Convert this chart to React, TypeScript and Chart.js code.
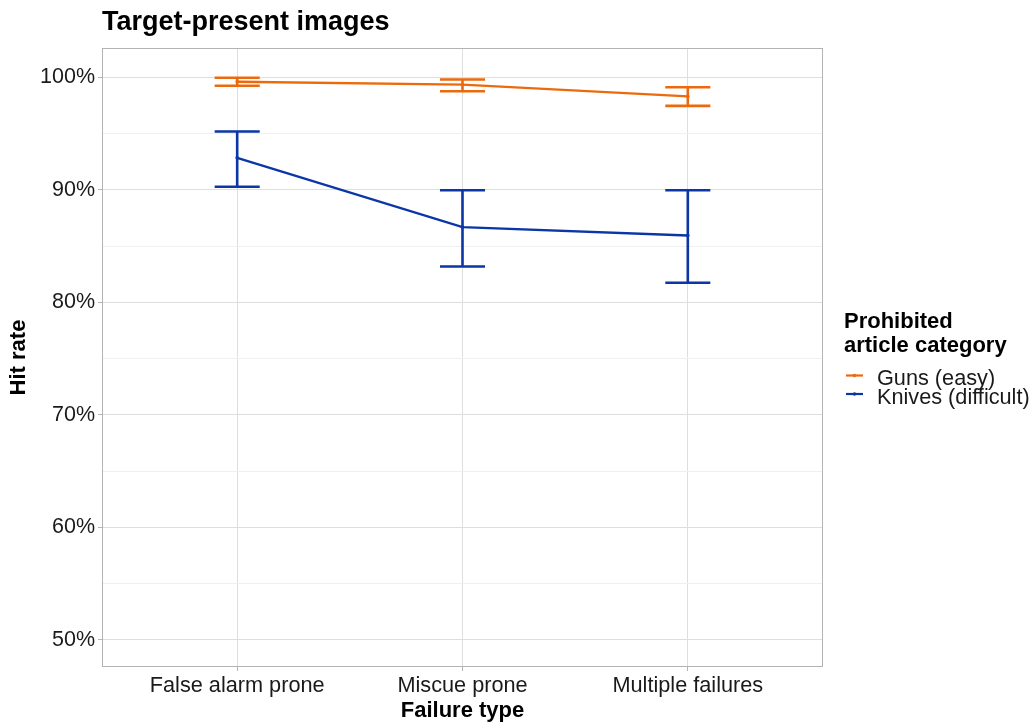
import React, { useEffect, useRef } from "react";
import { Chart, registerables } from "chart.js";

Chart.register(...registerables);

const categories = ["False alarm prone", "Miscue prone", "Multiple failures"];
const seriesNames = ["Guns (easy)", "Knives (difficult)"];
const seriesColors = ["#EC6A0C", "#0B36A6"];
const gunsMean = [99.6, 99.35, 98.3];
const gunsLow = [99.24, 98.76, 97.46];
const gunsHigh = [99.95, 99.8, 99.11];
const knivesMean = [92.84, 86.68, 85.94];
const knivesLow = [90.27, 83.19, 81.74];
const knivesHigh = [95.18, 89.96, 89.96];
const yTicks = [50, 55, 60, 65, 70, 75, 80, 85, 90, 95, 100];
const yMajor = [50, 60, 70, 80, 90, 100];

const FONT = "'Liberation Sans', Arial, Helvetica, sans-serif";

const errorBarPlugin = {
  id: "errorBars",
  afterDatasetsDraw(chart: any) {
    const ctx = chart.ctx;
    const xs = chart.scales.x;
    const ys = chart.scales.y;
    chart.data.datasets.forEach((ds: any) => {
      const lows: number[] = ds.errLow;
      const highs: number[] = ds.errHigh;
      ctx.save();
      ctx.strokeStyle = ds.borderColor;
      ctx.lineWidth = 2.6;
      ctx.lineCap = "butt";
      for (let i = 0; i < lows.length; i++) {
        const x = xs.getPixelForValue(i);
        const xl = xs.getPixelForValue(i - 0.1);
        const xr = xs.getPixelForValue(i + 0.1);
        const yl = ys.getPixelForValue(lows[i]);
        const yh = ys.getPixelForValue(highs[i]);
        ctx.beginPath();
        ctx.moveTo(x, yl);
        ctx.lineTo(x, yh);
        ctx.moveTo(xl, yl);
        ctx.lineTo(xr, yl);
        ctx.moveTo(xl, yh);
        ctx.lineTo(xr, yh);
        ctx.stroke();
      }
      ctx.restore();
    });
  },
};

const decorPlugin = {
  id: "decor",
  afterDraw(chart: any) {
    const ctx = chart.ctx;
    const a = chart.chartArea;
    ctx.save();
    // panel border
    ctx.strokeStyle = "#b3b3b3";
    ctx.lineWidth = 1;
    ctx.strokeRect(Math.round(a.left) + 0.5, Math.round(a.top) + 0.5, Math.round(a.right - a.left) - 1, Math.round(a.bottom - a.top) - 1);
    // plot title
    ctx.fillStyle = "#000";
    ctx.textAlign = "left";
    ctx.textBaseline = "alphabetic";
    ctx.font = `bold 27px ${FONT}`;
    ctx.fillText("Target-present images", a.left, 30);
    // legend
    const lx = a.right + 21;
    ctx.font = `bold 22px ${FONT}`;
    ctx.fillText("Prohibited", lx, 328);
    ctx.fillText("article category", lx, 352);
    ctx.font = `21.7px ${FONT}`;
    const rows = [385, 403.5];
    chart.data.datasets.forEach((ds: any, i: number) => {
      const by = rows[i];
      const ky = by - 9.5;
      ctx.strokeStyle = ds.borderColor;
      ctx.lineWidth = 2.2;
      ctx.beginPath();
      ctx.moveTo(lx + 2, ky);
      ctx.lineTo(lx + 19, ky);
      ctx.stroke();
      ctx.fillStyle = ds.borderColor;
      ctx.beginPath();
      ctx.arc(lx + 10.5, ky, 1.8, 0, Math.PI * 2);
      ctx.fill();
      ctx.fillStyle = "#1a1a1a";
      ctx.fillText(ds.label, lx + 33, by);
    });
    ctx.restore();
  },
};

export default function App() {
  const ref = useRef<HTMLCanvasElement | null>(null);
  useEffect(() => {
    if (!ref.current) return;
    const mk = (name: string, color: string, mean: number[], lo: number[], hi: number[]) => ({
      label: name,
      data: mean.map((v, i) => ({ x: i, y: v })),
      borderColor: color,
      backgroundColor: color,
      borderWidth: 2.3,
      pointRadius: 1.8,
      pointBorderWidth: 0,
      pointBackgroundColor: color,
      tension: 0,
      errLow: lo,
      errHigh: hi,
    });
    const chart = new Chart(ref.current, {
      type: "line",
      data: {
        datasets: [
          mk(seriesNames[0], seriesColors[0], gunsMean, gunsLow, gunsHigh),
          mk(seriesNames[1], seriesColors[1], knivesMean, knivesLow, knivesHigh),
        ] as any,
      },
      options: {
        responsive: false,
        animation: false,
        layout: { padding: { top: 48, right: 212, bottom: 0, left: 0 } },
        plugins: {
          legend: { display: false },
          title: { display: false },
          tooltip: { enabled: false },
        },
        scales: {
          x: {
            type: "linear",
            min: -0.6,
            max: 2.6,
            afterBuildTicks: (s: any) => {
              s.ticks = categories.map((_, i) => ({ value: i }));
            },
            afterFit: (s: any) => {
              s.height = 56;
            },
            ticks: {
              callback: (v: any) => categories[Math.round(Number(v))] ?? "",
              color: "#1a1a1a",
              font: { family: FONT, size: 21.7, lineHeight: 1 },
              padding: 4,
              maxRotation: 0,
              autoSkip: false,
            },
            grid: {
              color: "#dedede",
              lineWidth: 1,
              tickLength: 4,
              tickColor: "#b3b3b3",
            },
            border: { display: false },
            title: {
              display: true,
              text: "Failure type",
              color: "#000",
              font: { family: FONT, size: 22, weight: "bold", lineHeight: 1.1 },
              padding: { top: 0, bottom: 0 },
            },
          },
          y: {
            type: "linear",
            min: 47.6,
            max: 102.6,
            afterBuildTicks: (s: any) => {
              s.ticks = yTicks.map((v) => ({ value: v }));
            },
            afterFit: (s: any) => {
              s.width = 102;
            },
            ticks: {
              callback: (v: any) => (yMajor.includes(Number(v)) ? `${v}%` : ""),
              color: "#1a1a1a",
              font: { family: FONT, size: 21.5 },
              padding: 3,
              autoSkip: false,
            },
            grid: {
              color: (c: any) => (yMajor.includes(c.tick?.value) ? "#dedede" : "#f0f0f0"),
              lineWidth: 1,
              tickLength: 4,
              tickColor: (c: any) => (yMajor.includes(c.tick?.value) ? "#b3b3b3" : "rgba(0,0,0,0)"),
            },
            border: { display: false },
            title: {
              display: true,
              text: "Hit rate",
              color: "#000",
              font: { family: FONT, size: 22, weight: "bold", lineHeight: 1.2 },
              padding: { top: 6, bottom: 0 },
            },
          },
        },
      } as any,
      plugins: [errorBarPlugin, decorPlugin],
    });
    return () => chart.destroy();
  }, []);
  return (
    <div style={{ position: "fixed", left: 0, top: 0, width: 1035, height: 723, background: "#fff" }}>
      <canvas ref={ref} width={1035} height={723} style={{ display: "block" }} />
    </div>
  );
}
